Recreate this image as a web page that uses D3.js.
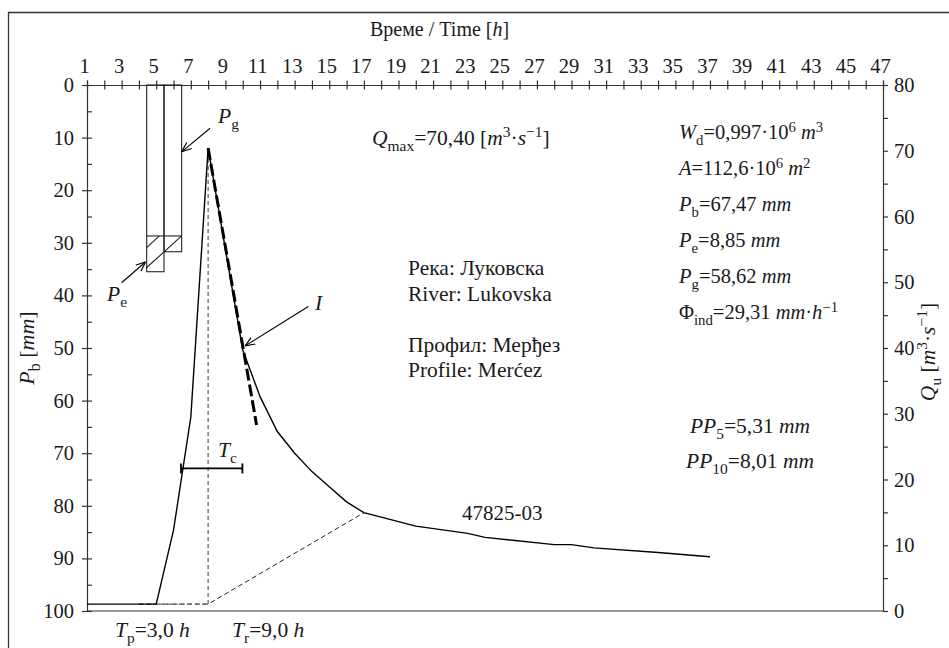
<!doctype html>
<html>
<head>
<meta charset="utf-8">
<script src="https://cdnjs.cloudflare.com/ajax/libs/d3/7.8.5/d3.min.js"></script>
<style>
  body { margin: 0; background: #fff; }
  svg text, svg tspan { font-family: "Liberation Serif" !important; }
  .axis path, .axis line { stroke: #333; stroke-width: 1.2; }
</style>
</head>
<body>
<div id="chart"></div>
<script>
// time axis (hours) and tick labels
var hours = d3.range(1, 48);
var pTicks = d3.range(0, 101, 10);
var pMinor = d3.range(5, 100, 10);
var qTicks = d3.range(0, 81, 10);
var qMinor = d3.range(5, 80, 10);

// rainfall bars (hyetograph), mm hanging from the top
var rainStart = [4.45, 5.45];
var rainEnd = [5.45, 6.47];
var rainTotal = [35.5, 31.7];
var rainLoss = [28.7, 28.7];

// hydrograph Q [m3/s]
var hydroT = [1, 5, 6, 7, 8, 9, 10, 11, 12, 13, 14, 15, 16, 17, 20, 23, 24, 28, 29, 30.3, 34, 37];
var hydroQ = [1.05, 1.05, 12.3, 29.5, 70.4, 55.0, 39.7, 32.6, 27.3, 24.0, 21.2, 18.9, 16.6, 14.95, 12.9, 11.8, 11.2, 10.1, 10.1, 9.6, 8.9, 8.26];

// recession line I
var lineIT = [8, 10.8];
var lineIQ = [70.4, 28.3];

// base flow separation
var baseT = [4, 8, 17];
var baseQ = [1.05, 1.05, 14.95];

// concentration time Tc
var tcT = [6.43, 9.98];
var tcP = 72.9;

var FONT = "Liberation Serif";
var W = 949, H = 648;
var svg = d3.select("#chart").append("svg")
  .attr("width", W).attr("height", H)
  .attr("font-family", FONT);

// outer frame (left + top only visible)
svg.append("path")
  .attr("d", "M8.5,700V12.5H960")
  .attr("fill", "none").attr("stroke", "#333").attr("stroke-width", 1.3);

var x = d3.scaleLinear().domain([1, 47]).range([87, 883]);
var yP = d3.scaleLinear().domain([0, 100]).range([85, 611]);
var yQ = d3.scaleLinear().domain([0, 80]).range([611, 85]);

// rich text helper: parts = [[text, flags]], flags: i=italic, b=sub, p=sup
function rich(g, px, py, parts, fs, anchor) {
  var t = g.append("text").attr("x", px).attr("y", py)
    .attr("font-family", FONT).attr("fill", "#1a1a1a")
    .attr("font-size", fs).attr("text-anchor", anchor || "start");
  var cur = 0;
  parts.forEach(function(p) {
    var f = p[1] || "";
    var target = f.indexOf("b") >= 0 ? 0.27 * fs : (f.indexOf("p") >= 0 ? -0.36 * fs : 0);
    var s = t.append("tspan").text(p[0]).attr("dy", target - cur);
    if (f.indexOf("i") >= 0) s.attr("font-style", "italic");
    if (f.indexOf("b") >= 0 || f.indexOf("p") >= 0) s.attr("font-size", fs * 0.72);
    cur = target;
  });
  return t;
}

var tickFs = 20.5;
function styleTicks(g) {
  g.attr("font-family", FONT).attr("font-size", tickFs);
  g.selectAll("text").attr("fill", "#1a1a1a").attr("font-family", FONT);
}

// top time axis, crossing ticks
svg.append("g").attr("class", "axis")
  .attr("transform", "translate(0,85)")
  .call(d3.axisTop(x).tickValues(hours).tickSize(4.5).tickPadding(8)
    .tickFormat(function(d) { return d % 2 ? d : ""; }))
  .call(styleTicks)
  .selectAll("text").attr("dx", -3);
svg.append("g").attr("class", "axis")
  .attr("transform", "translate(0,85)")
  .call(d3.axisTop(x).tickValues(hours).tickSize(-4.5).tickFormat(""))
  .select(".domain").remove();

// left P axis
svg.append("g").attr("class", "axis")
  .attr("transform", "translate(87,0)")
  .call(d3.axisLeft(yP).tickValues(pTicks).tickSize(5).tickPadding(8))
  .call(styleTicks);
svg.append("g").attr("class", "axis")
  .attr("transform", "translate(87,0)")
  .call(d3.axisLeft(yP).tickValues(pTicks.concat(pMinor)).tickSize(-5).tickFormat(""))
  .select(".domain").remove();

// right Q axis
svg.append("g").attr("class", "axis")
  .attr("transform", "translate(883,0)")
  .call(d3.axisRight(yQ).tickValues(qTicks.concat(qMinor)).tickSize(5).tickPadding(6)
    .tickFormat(function(d) { return d % 10 ? "" : d; }))
  .call(styleTicks);

// bottom line
svg.append("line")
  .attr("x1", x(1)).attr("x2", x(47)).attr("y1", yQ(0)).attr("y2", yQ(0))
  .attr("stroke", "#333").attr("stroke-width", 1.2);

// rainfall bars
var bars = svg.append("g").attr("fill", "none").attr("stroke", "#222").attr("stroke-width", 1.1);
rainStart.forEach(function(s, i) {
  bars.append("rect")
    .attr("x", x(s)).attr("y", yP(0))
    .attr("width", x(rainEnd[i]) - x(s))
    .attr("height", yP(rainTotal[i]) - yP(0));
  bars.append("line")
    .attr("x1", x(s)).attr("x2", x(rainEnd[i]))
    .attr("y1", yP(rainLoss[i])).attr("y2", yP(rainLoss[i]));
});
// hatch for effective rainfall
var hatchT1 = [4.45, 4.45], hatchP1 = [30.9, 34.7];
var hatchT2 = [5.18, 6.47], hatchP2 = [28.7, 28.7];
hatchT1.forEach(function(t, i) {
  bars.append("line")
    .attr("x1", x(t)).attr("y1", yP(hatchP1[i]))
    .attr("x2", x(hatchT2[i])).attr("y2", yP(hatchP2[i]));
});

// base flow separation (dashed)
var baseLine = d3.line().x(function(d, i) { return x(baseT[i]); }).y(function(d) { return yQ(d); });
svg.append("path").attr("d", baseLine(baseQ))
  .attr("fill", "none").attr("stroke", "#222").attr("stroke-width", 1).attr("stroke-dasharray", "5,3");
svg.append("line")
  .attr("x1", x(8)).attr("x2", x(8)).attr("y1", yQ(baseQ[1])).attr("y2", yQ(70.4))
  .attr("stroke", "#666").attr("stroke-width", 1.3).attr("stroke-dasharray", "4,3");
svg.append("path").attr("d", d3.line()([[x(baseT[0]), yQ(baseQ[0])], [x(baseT[1]), yQ(baseQ[1])]]))
  .attr("stroke", "#666").attr("stroke-width", 1.3).attr("stroke-dasharray", "4,3");

// hydrograph
var hLine = d3.line().x(function(d, i) { return x(hydroT[i]); }).y(function(d) { return yQ(d); });
svg.append("path").attr("d", hLine(hydroQ))
  .attr("fill", "none").attr("stroke", "#000").attr("stroke-width", 1.4);

// line I (thick dashed)
svg.append("line")
  .attr("x1", x(lineIT[0])).attr("y1", yQ(lineIQ[0]))
  .attr("x2", x(lineIT[1])).attr("y2", yQ(lineIQ[1]))
  .attr("stroke", "#000").attr("stroke-width", 3).attr("stroke-dasharray", "12,4");

// Tc bar
var tc = svg.append("g").attr("stroke", "#000").attr("stroke-width", 1.8);
tc.append("line").attr("x1", x(tcT[0])).attr("x2", x(tcT[1])).attr("y1", yP(tcP)).attr("y2", yP(tcP));
tcT.forEach(function(t) {
  tc.append("line").attr("x1", x(t)).attr("x2", x(t)).attr("y1", yP(tcP) - 5).attr("y2", yP(tcP) + 5);
});

// arrows
svg.append("defs").append("marker")
  .attr("id", "arr").attr("viewBox", "0 0 10 10").attr("refX", 10).attr("refY", 5)
  .attr("markerWidth", 9).attr("markerHeight", 9).attr("orient", "auto")
  .append("path").attr("d", "M0,1 L10,5 L0,9").attr("fill", "none").attr("stroke", "#000").attr("stroke-width", 1.2);
var arrowFromT = [8.11, 3.0, 13.79], arrowFromP = [8.23, 37.6, 42.1];
var arrowToT = [6.47, 4.39, 10.13], arrowToP = [12.7, 33.6, 49.6];
arrowFromT.forEach(function(t, i) {
  svg.append("line")
    .attr("x1", x(t)).attr("y1", yP(arrowFromP[i]))
    .attr("x2", x(arrowToT[i])).attr("y2", yP(arrowToP[i]))
    .attr("stroke", "#000").attr("stroke-width", 1.1).attr("marker-end", "url(#arr)");
});

var fs = 20, fsL = 21.5;
// annotation labels
rich(svg, 218, 123, [["P", "i"], ["g", "b"]], fsL);
rich(svg, 107, 301, [["P", "i"], ["e", "b"]], fsL);
rich(svg, 315, 310, [["I", "i"]], fsL);
rich(svg, 218, 457, [["T", "i"], ["c", "b"]], fsL);

// title
rich(svg, 370, 36, [["Време / Time ["], ["h", "i"], ["]"]], fs);

// axis titles
var lt = rich(svg, 0, 0, [["P", "i"], ["b", "b"], [" ["], ["mm", "i"], ["]"]], 22, "middle");
lt.attr("transform", "translate(34,348) rotate(-90)");
var rt = rich(svg, 0, 0, [["Q", "i"], ["u", "b"], [" ["], ["m", "i"], ["3", "p"], ["·"], ["s", "i"], ["−1", "p"], ["]"]], 21.5, "middle");
rt.attr("transform", "translate(935,352) rotate(-90)");

// Qmax
rich(svg, 372, 145, [["Q", "i"], ["max", "b"], ["=70,40 ["], ["m", "i"], ["3", "p"], ["·"], ["s", "i"], ["−1", "p"], ["]"]], fsL);

// river / profile
var info = ["Река: Луковска", "River: Lukovska", "", "Профил: Мерђез", "Profile: Merćez"];
info.forEach(function(s, i) {
  if (s) rich(svg, 408, 275 + i * 25.5, [[s]], fsL);
});

// parameters
var params = [
  [["W", "i"], ["d", "b"], ["=0,997·10"], ["6", "p"], [" "], ["m", "i"], ["3", "p"]],
  [["A", "i"], ["=112,6·10"], ["6", "p"], [" "], ["m", "i"], ["2", "p"]],
  [["P", "i"], ["b", "b"], ["=67,47 "], ["mm", "i"]],
  [["P", "i"], ["e", "b"], ["=8,85 "], ["mm", "i"]],
  [["P", "i"], ["g", "b"], ["=58,62 "], ["mm", "i"]],
  [["Φ"], ["ind", "b"], ["=29,31 "], ["mm", "i"], ["·"], ["h", "i"], ["−1", "p"]]
];
params.forEach(function(p, i) {
  rich(svg, 679, 139 + i * 36, p, 20.5);
});

rich(svg, 750, 433, [["PP", "i"], ["5", "b"], ["=5,31 "], ["mm", "i"]], fsL, "middle");
rich(svg, 750, 468, [["PP", "i"], ["10", "b"], ["=8,01 "], ["mm", "i"]], fsL, "middle");

rich(svg, 462, 520, [["47825-03"]], 21);

rich(svg, 115, 637, [["T", "i"], ["p", "b"], ["=3,0 "], ["h", "i"]], fsL);
rich(svg, 232, 637, [["T", "i"], ["r", "b"], ["=9,0 "], ["h", "i"]], fsL);
</script>
</body>
</html>
